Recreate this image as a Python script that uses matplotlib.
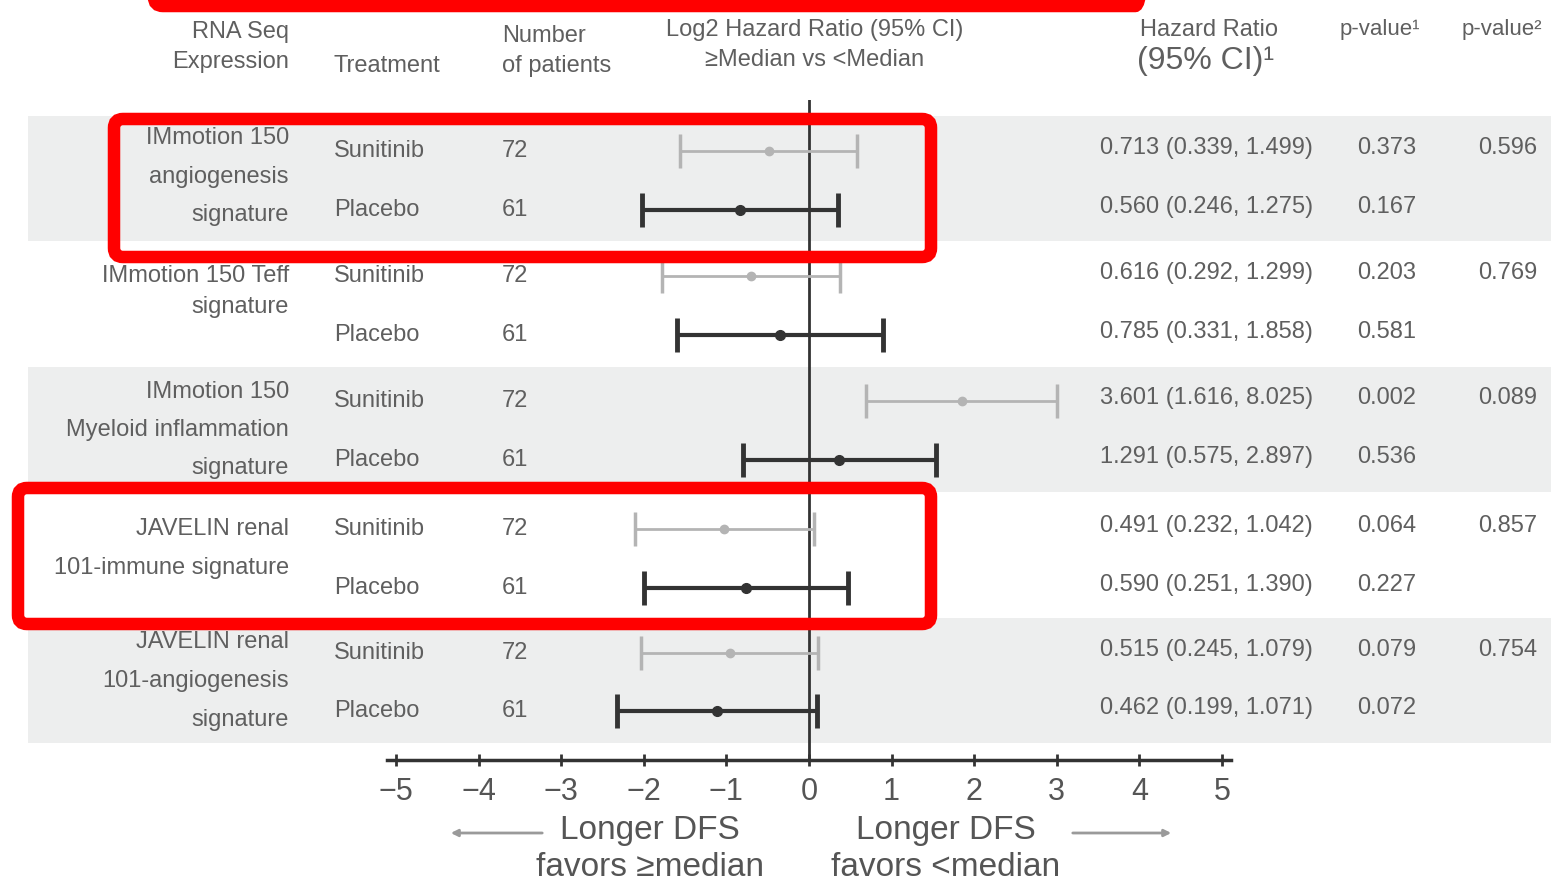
import numpy as np
import matplotlib
matplotlib.use("Agg")
import matplotlib.pyplot as plt
from matplotlib.patches import Rectangle, FancyBboxPatch

plt.rcParams['font.family'] = ['Liberation Sans', 'DejaVu Sans']

# Data
groups = [
    ["IMmotion 150", "angiogenesis", "signature"],
    ["IMmotion 150 Teff", "signature"],
    ["IMmotion 150", "Myeloid inflammation", "signature"],
    ["JAVELIN renal", "101-immune signature"],
    ["JAVELIN renal", "101-angiogenesis", "signature"],
]
treatments = ["Sunitinib", "Placebo"]
n_patients = [72, 61]
hr = [[0.713, 0.560], [0.616, 0.785], [3.601, 1.291], [0.491, 0.590], [0.515, 0.462]]
hr_lo = [[0.339, 0.246], [0.292, 0.331], [1.616, 0.575], [0.232, 0.251], [0.245, 0.199]]
hr_hi = [[1.499, 1.275], [1.299, 1.858], [8.025, 2.897], [1.042, 1.390], [1.079, 1.071]]
p_values = [["0.373", "0.167"], ["0.203", "0.581"], ["0.002", "0.536"],
            ["0.064", "0.227"], ["0.079", "0.072"]]
p_interaction = ["0.596", "0.769", "0.089", "0.857", "0.754"]
x_ticks = list(range(-5, 6))

# Layout (pixel rows)
W, H = 1551, 881
row_y = [[151, 210], [276, 335], [401, 460], [529, 588], [653, 711]]
label_top = [138, 276, 392, 529, 642]
label_step = [38.5, 31, 38, 39, 39]
bands = [(116, 241), (367, 492), (618, 743)]
txt = "#5f5f5f"
fs = 17

fig = plt.figure(figsize=(W / 100, H / 100), dpi=100)

# background / table axes in pixel coordinates
bg = fig.add_axes([0, 0, 1, 1], zorder=0)
bg.set_xlim(0, W)
bg.set_ylim(H, 0)
bg.axis("off")

for top, bot in bands:
    bg.add_patch(Rectangle((28, top), W - 28, bot - top, color="#edeeee", lw=0))

# headers
bg.text(289, 32, "RNA Seq", ha="right", va="center", fontsize=fs, color=txt)
bg.text(289, 62, "Expression", ha="right", va="center", fontsize=fs, color=txt)
bg.text(333, 66, "Treatment", ha="left", va="center", fontsize=fs, color=txt)
bg.text(502, 36, "Number", ha="left", va="center", fontsize=fs, color=txt)
bg.text(502, 66, "of patients", ha="left", va="center", fontsize=fs, color=txt)
bg.text(815, 30, "Log2 Hazard Ratio (95% CI)", ha="center", va="center", fontsize=fs, color=txt)
bg.text(815, 60, "≥Median vs <Median", ha="center", va="center", fontsize=fs, color=txt)
bg.text(1140, 30, "Hazard Ratio", ha="left", va="center", fontsize=fs, color=txt)
bg.text(1137, 61, "(95% CI)¹", ha="left", va="center", fontsize=23, color=txt)
bg.text(1340, 30, "p-value¹", ha="left", va="center", fontsize=fs - 1, color=txt)
bg.text(1462, 30, "p-value²", ha="left", va="center", fontsize=fs - 1, color=txt)

# table rows
for g, lines in enumerate(groups):
    for k, line in enumerate(lines):
        bg.text(289, label_top[g] + k * label_step[g], line, ha="right", va="center",
                fontsize=fs, color=txt)
    for t in range(2):
        y = row_y[g][t]
        bg.text(334, y, treatments[t], ha="left", va="center", fontsize=fs, color=txt)
        bg.text(502, y, str(n_patients[t]), ha="left", va="center", fontsize=fs, color=txt)
        bg.text(1100, y - 3, f"{hr[g][t]:.3f} ({hr_lo[g][t]:.3f}, {hr_hi[g][t]:.3f})",
                ha="left", va="center", fontsize=fs, color=txt)
        bg.text(1357, y - 3, p_values[g][t], ha="left", va="center", fontsize=fs, color=txt)
    bg.text(1478, row_y[g][0] - 3, p_interaction[g], ha="left", va="center", fontsize=fs, color=txt)

# direction labels under the axis
dcol = "#555555"
bg.text(650, 830, "Longer DFS", ha="center", va="center", fontsize=24, color=dcol)
bg.text(650, 868, "favors ≥median", ha="center", va="center", fontsize=24, color=dcol)
bg.text(946, 830, "Longer DFS", ha="center", va="center", fontsize=24, color=dcol)
bg.text(946, 868, "favors <median", ha="center", va="center", fontsize=24, color=dcol)
bg.annotate("", xy=(448, 833), xytext=(545, 833),
            arrowprops=dict(arrowstyle="-|>", color="#9a9a9a", lw=2, mutation_scale=10))
bg.annotate("", xy=(1174, 833), xytext=(1070, 833),
            arrowprops=dict(arrowstyle="-|>", color="#9a9a9a", lw=2, mutation_scale=10))

# forest plot axes
x0, x1 = 387, 1231
ax = fig.add_axes([x0 / W, (H - 760) / H, (x1 - x0) / W, 660 / H], zorder=1)
ax.patch.set_alpha(0)
ax.set_xlim(-5.11, 5.11)
ax.set_ylim(660, 0)
for s in ["left", "right", "top"]:
    ax.spines[s].set_visible(False)
ax.spines["bottom"].set_linewidth(2.5)
ax.spines["bottom"].set_color("#333333")
ax.set_yticks([])
ax.set_xticks(x_ticks)
ax.tick_params(axis="x", direction="inout", length=9, width=2, color="#333333",
               labelsize=22, labelcolor="#555555", pad=8)
ax.axvline(0, color="#333333", lw=2, zorder=1)

styles = [dict(color="#b4b4b4", lw=2.0, ms=6), dict(color="#333333", lw=3.0, ms=7)]
for g in range(len(groups)):
    for t in range(2):
        y = row_y[g][t] - 100
        c = np.log2(hr[g][t])
        lo = np.log2(hr_lo[g][t])
        hi = np.log2(hr_hi[g][t])
        st = styles[t]
        ax.errorbar([c], [y], xerr=[[c - lo], [hi - c]], fmt="o", color=st["color"],
                    ecolor=st["color"], elinewidth=st["lw"], capsize=12, capthick=st["lw"] + 0.5,
                    ms=st["ms"], zorder=3)

# red highlight boxes on top
top = fig.add_axes([0, 0, 1, 1], zorder=2)
top.set_xlim(0, W)
top.set_ylim(H, 0)
top.axis("off")
top.patch.set_alpha(0)
red_boxes = [(154, -100, 990, 106), (114, 119, 817, 138), (18, 488, 913, 136)]
for bx, by, bw, bh in red_boxes:
    top.add_patch(FancyBboxPatch((bx, by), bw, bh, boxstyle="round,pad=0,rounding_size=9",
                                 fill=False, ec="#ff0000", lw=9))

fig.savefig("out.png", dpi=100)
